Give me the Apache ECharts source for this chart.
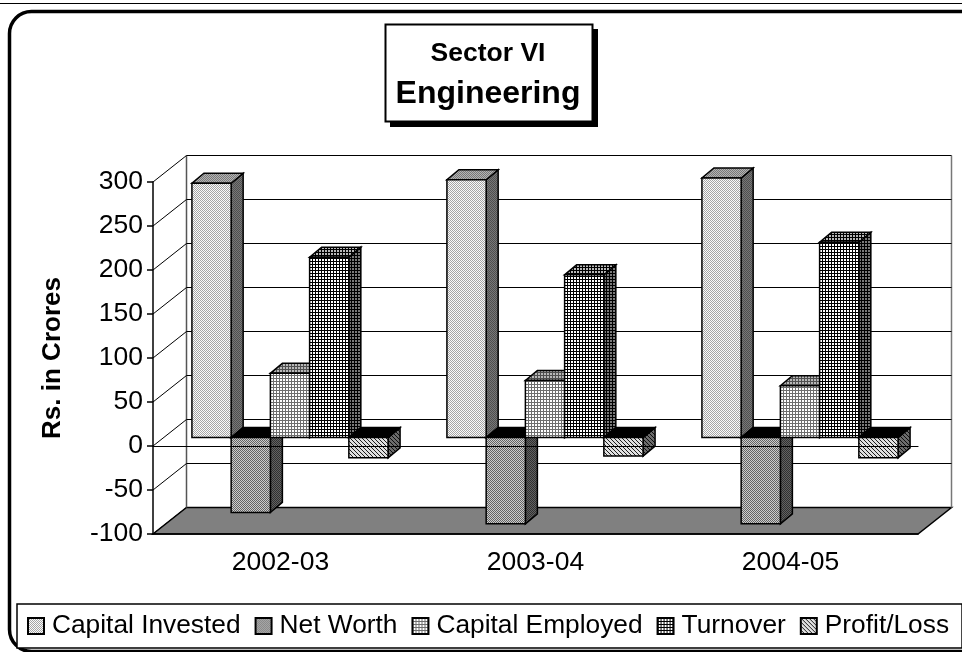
<!DOCTYPE html>
<html>
<head>
<meta charset="utf-8">
<script src="https://cdn.jsdelivr.net/npm/echarts@6/dist/echarts.min.js"></script>
<style>
html, body { margin: 0; padding: 0; background: #fff; }
#box { width: 962px; height: 652px; }
</style>
</head>
<body>
<div id="box"></div>
<script>
var years = ['2002-03', '2003-04', '2004-05'];
var yTicks = [-100, -50, 0, 50, 100, 150, 200, 250, 300];
var seriesNames = ['Capital Invested', 'Net Worth', 'Capital Employed', 'Turnover', 'Profit/Loss'];
var capitalInvested = [289, 293, 295];
var netWorth = [-85, -98, -98];
var capitalEmployed = [73, 65, 59];
var turnover = [205, 185, 222];
var profitLoss = [-23, -21, -23];
var seriesValues = [capitalInvested, netWorth, capitalEmployed, turnover, profitLoss];

var FONT = '"Liberation Sans", Arial, sans-serif';
// depth of the fake 3d box: whole plot and a single bar
var WALL_DX = 33.5, WALL_DY = -26.5;
var BAR_SHIFT_X = 9.5, BAR_SHIFT_Y = -8.4;
var BAR_DX = 12, BAR_DY = -10;

// tile: rows of strings, '#' is dark pixel, '.' is light pixel
var tiles = [
    { rows: ['#.', '.#'], dark: 165, light: 250 },
    { rows: ['#.', '.#'], dark: 100, light: 205 },
    { rows: ['###', '#..', '#..'], dark: 110, light: 255 },
    { rows: ['###', '#..', '#..'], dark: 0, light: 255 },
    { rows: ['#...', '.#..', '..#.', '...#'], dark: 30, light: 225 }
];

function makePattern(t, k) {
    var c = document.createElement('canvas');
    c.width = t.rows[0].length;
    c.height = t.rows.length;
    var g = c.getContext('2d');
    t.rows.forEach(function (row, y) {
        row.split('').forEach(function (ch, x) {
            var v = Math.round((ch === '#' ? t.dark : t.light) * k);
            g.fillStyle = 'rgb(' + v + ',' + v + ',' + v + ')';
            g.fillRect(x, y, 1, 1);
        });
    });
    return { image: c, repeat: 'repeat' };
}

function poly(points, fill) {
    return {
        type: 'polygon',
        shape: { points: points },
        style: { fill: fill, stroke: '#000', lineWidth: 1.5, lineJoin: 'miter' }
    };
}

function barRenderer(j) {
    var front = makePattern(tiles[j], 1);
    var top = makePattern(tiles[j], 0.72);
    var side = makePattern(tiles[j], 0.48);
    return function (params, api) {
        var zero = api.coord([api.value(0), 0]);
        var end = api.coord([api.value(0), api.value(1)]);
        var w = api.size([1, 0])[0] / 6.5;
        var x0 = zero[0] + BAR_SHIFT_X + (j - 2.5) * w;
        var x1 = x0 + w;
        var y0 = zero[1] + BAR_SHIFT_Y;
        var y1 = end[1] + BAR_SHIFT_Y;
        var up = Math.min(y0, y1), down = Math.max(y0, y1);
        return {
            type: 'group',
            children: [
                poly([[x1, up], [x1 + BAR_DX, up + BAR_DY], [x1 + BAR_DX, down + BAR_DY], [x1, down]], side),
                poly([[x0, up], [x1, up], [x1 + BAR_DX, up + BAR_DY], [x0 + BAR_DX, up + BAR_DY]], api.value(1) < 0 ? '#000' : top),
                poly([[x0, up], [x1, up], [x1, down], [x0, down]], front)
            ]
        };
    };
}

function renderWall(params, api) {
    var cs = params.coordSys;
    var y = api.coord([0, api.value(0)])[1];
    var left = cs.x, right = cs.x + cs.width;
    var lineStyle = { stroke: '#000', lineWidth: 1 };
    var kids = [
        { type: 'line', shape: { x1: left, y1: y, x2: left + WALL_DX, y2: y + WALL_DY }, style: lineStyle },
        { type: 'line', shape: { x1: left + WALL_DX, y1: y + WALL_DY, x2: right + WALL_DX, y2: y + WALL_DY }, style: lineStyle }
    ];
    if (api.value(0) === yTicks[0]) {
        kids.push({
            type: 'polygon',
            shape: { points: [[left, y], [right, y], [right + WALL_DX, y + WALL_DY], [left + WALL_DX, y + WALL_DY]] },
            style: { fill: '#808080', stroke: '#000', lineWidth: 1.5 }
        });
        var backTop = cs.y + WALL_DY;
        kids.push({ type: 'line', shape: { x1: left + WALL_DX, y1: backTop, x2: left + WALL_DX, y2: y + WALL_DY }, style: { stroke: '#555', lineWidth: 1.5 } });
        kids.push({ type: 'line', shape: { x1: right + WALL_DX, y1: backTop, x2: right + WALL_DX, y2: y + WALL_DY }, style: { stroke: '#777', lineWidth: 1.5 } });
    }
    return { type: 'group', children: kids };
}

var myChart = echarts.init(document.getElementById('box'));

var series = [{
    name: 'wall',
    type: 'custom',
    z: 1,
    silent: true,
    renderItem: renderWall,
    encode: { y: 0 },
    data: yTicks.map(function (v) { return [v]; })
}];
seriesNames.forEach(function (name, j) {
    series.push({
        name: name,
        type: 'custom',
        z: 2 + j,
        renderItem: barRenderer(j),
        encode: { x: 0, y: 1 },
        itemStyle: { color: makePattern(tiles[j], 1), borderColor: '#000', borderWidth: 1.2 },
        data: seriesValues[j].map(function (v, i) { return [i, v]; })
    });
});

var tickLine = { color: '#000', width: 1.5 };

var option = {
    animation: false,
    backgroundColor: '#fff',
    title: {
        left: 488,
        top: 34,
        padding: 0,
        textAlign: 'center',
        text: '{a|Sector VI}\n{b|Engineering}',
        textStyle: {
            rich: {
                a: { color: '#000', fontFamily: FONT, fontWeight: 'bold', fontSize: 26.5, lineHeight: 40, align: 'center' },
                b: { color: '#000', fontFamily: FONT, fontWeight: 'bold', fontSize: 32, lineHeight: 40, align: 'center' }
            }
        }
    },
    grid: { left: 153, top: 182, width: 765, height: 352, containLabel: false },
    xAxis: [{
        type: 'category',
        position: 'bottom',
        data: years,
        axisLine: { onZero: false, lineStyle: tickLine },
        axisTick: { length: 6, lineStyle: tickLine },
        axisLabel: { color: '#000', fontFamily: FONT, fontSize: 26.5, margin: 15 },
        z: 1
    }, {
        // the line through zero, it runs in front of the bars
        type: 'category',
        position: 'top',
        data: years,
        axisLine: { onZero: true, onZeroAxisIndex: 0, lineStyle: { color: '#000', width: 1.2 } },
        axisTick: { inside: true, length: 6, lineStyle: tickLine },
        axisLabel: { show: false },
        z: 20
    }],
    yAxis: {
        type: 'value',
        min: -100,
        max: 300,
        interval: 50,
        name: 'Rs. in Crores',
        nameLocation: 'middle',
        nameGap: 87,
        nameTextStyle: { color: '#000', fontFamily: FONT, fontWeight: 'bold', fontSize: 26 },
        axisLine: { show: true, onZero: false, lineStyle: tickLine },
        axisTick: { show: true, length: 6, lineStyle: tickLine },
        axisLabel: { color: '#000', fontFamily: FONT, fontSize: 26.5, margin: 10 },
        splitLine: { show: false },
        z: 20
    },
    legend: {
        left: 17,
        top: 604,
        width: 925,
        padding: [9, 13, 9, 10],
        backgroundColor: '#fff',
        borderColor: '#000',
        borderWidth: 1.5,
        icon: 'rect',
        itemGap: 14,
        itemWidth: 16,
        itemHeight: 16,
        data: seriesNames,
        textStyle: { color: '#000', fontFamily: FONT, fontSize: 26.3, padding: [0, 0, 0, 3] }
    },
    graphic: [
        { type: 'rect', z: -1, silent: true, shape: { x: 9.5, y: 11.5, width: 990, height: 640, r: 22 }, style: { fill: 'none', stroke: '#000', lineWidth: 3.5 } },
        { type: 'line', z: -1, silent: true, shape: { x1: 0, y1: 3.5, x2: 962, y2: 3.5 }, style: { stroke: '#000', lineWidth: 1 } },
        { type: 'rect', z: 0, silent: true, shape: { x: 390, y: 29, width: 208, height: 98 }, style: { fill: '#000' } },
        { type: 'rect', z: 0, silent: true, shape: { x: 385.5, y: 24.5, width: 207, height: 97 }, style: { fill: '#fff', stroke: '#000', lineWidth: 2 } }
    ],
    series: series
};
myChart.setOption(option);
</script>
</body>
</html>
